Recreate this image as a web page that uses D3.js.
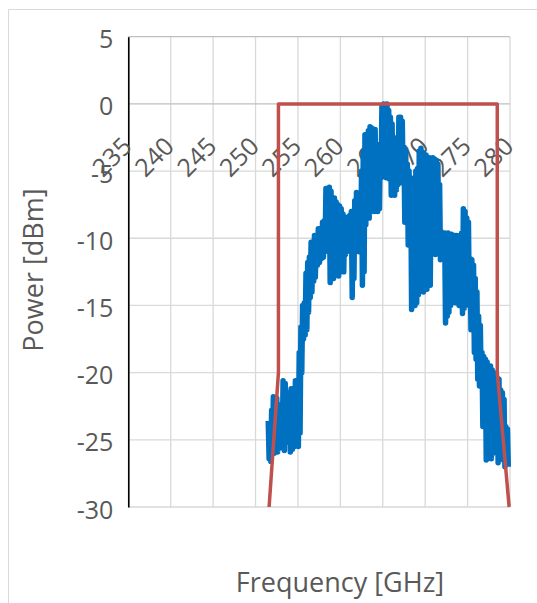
<!DOCTYPE html>
<meta charset="utf-8">
<style>
body { margin: 0; background: #fff; }
text { font-family: "Open Sans", "Noto Sans", sans-serif; fill: #595959; }
.grid line { stroke: #d9d9d9; stroke-width: 1.3; }
</style>
<body>
<script src="https://cdn.jsdelivr.net/npm/d3@7"></script>
<script>

// tick values
var xTicks = [235, 240, 245, 250, 255, 260, 265, 270, 275, 280];
var yTicks = [5, 0, -5, -10, -15, -20, -25, -30];

// filter mask (red)
var maskFreq  = [251.6, 252.7, 252.7, 278.5, 278.5, 279.9];
var maskPower = [-30, -20, 0, 0, -20, -30];

// measured spectrum (blue), [GHz, dBm]
var spectrum = [
  [251.50,-23.6],[251.60,-26.4],[251.70,-24.2],[251.80,-26.6],[251.90,-22.8],[252.00,-25.6],
  [252.10,-21.8],[252.20,-26.0],[252.30,-22.5],[252.40,-25.2],[252.50,-21.9],[252.60,-25.9],
  [252.70,-23.0],[252.85,-25.5],[253.00,-22.4],[253.15,-25.6],[253.25,-20.6],[253.40,-25.8],
  [253.50,-20.8],[253.65,-24.6],[253.75,-21.5],[253.90,-25.2],[254.00,-21.7],[254.10,-25.9],
  [254.20,-21.2],[254.35,-25.7],[254.45,-21.4],[254.60,-25.5],[254.70,-20.6],[254.85,-25.4],
  [254.95,-20.8],[255.05,-25.5],[255.15,-18.5],[255.25,-24.5],[255.35,-16.6],[255.45,-20.0],
  [255.55,-15.0],[255.65,-17.5],[255.75,-14.8],[255.85,-17.2],[255.95,-12.6],[256.05,-16.8],
  [256.15,-11.8],[256.25,-15.5],[256.35,-11.4],[256.45,-14.4],[256.55,-10.3],[256.65,-14.0],
  [256.75,-10.6],[256.85,-13.2],[256.95,-9.8],[257.05,-12.9],[257.15,-10.0],[257.30,-12.0],
  [257.40,-9.3],[257.55,-11.8],[257.65,-9.5],[257.80,-11.5],[257.90,-8.8],[258.00,-11.4],
  [258.10,-8.7],[258.20,-10.8],[258.30,-6.3],[258.40,-10.9],[258.50,-6.4],[258.60,-11.0],
  [258.70,-6.2],[258.80,-13.3],[258.90,-6.5],[259.00,-12.8],[259.10,-7.0],[259.20,-13.0],
  [259.30,-7.0],[259.40,-12.2],[259.50,-7.3],[259.60,-12.4],[259.70,-7.5],[259.80,-12.8],
  [259.90,-7.6],[260.00,-12.5],[260.10,-7.8],[260.20,-12.0],[260.30,-8.2],[260.40,-12.5],
  [260.50,-8.4],[260.60,-11.2],[260.70,-8.6],[260.80,-10.8],[260.90,-8.5],[261.00,-10.6],
  [261.10,-8.3],[261.20,-11.0],[261.30,-8.0],[261.40,-14.4],[261.50,-8.0],[261.60,-13.0],
  [261.70,-7.2],[261.80,-11.0],[261.90,-6.6],[262.00,-10.8],[262.10,-6.8],[262.20,-11.0],
  [262.30,-6.9],[262.40,-10.6],[262.50,-5.0],[262.60,-13.5],[262.70,-3.5],[262.80,-12.5],
  [262.90,-2.3],[263.00,-9.0],[263.10,-2.5],[263.20,-8.2],[263.30,-2.0],[263.40,-8.5],
  [263.50,-1.7],[263.60,-8.0],[263.70,-1.8],[263.80,-7.5],[263.90,-2.2],[264.00,-8.0],
  [264.10,-1.9],[264.20,-7.8],[264.30,-3.0],[264.40,-8.0],[264.50,-3.6],[264.60,-7.8],
  [264.70,-3.2],[264.80,-5.5],[264.90,-0.2],[265.00,-5.3],[265.10,0.0],[265.20,-5.4],
  [265.30,-0.3],[265.40,-5.5],[265.50,0.0],[265.60,-5.2],[265.70,-0.5],[265.80,-5.6],
  [265.90,-1.0],[266.00,-6.8],[266.10,-1.5],[266.20,-6.5],[266.30,-2.5],[266.40,-6.8],
  [266.50,-2.6],[266.60,-6.4],[266.70,-2.5],[266.80,-6.0],[266.90,-1.0],[267.00,-5.8],
  [267.10,-1.0],[267.20,-5.5],[267.30,-1.3],[267.40,-5.9],[267.50,-3.2],[267.60,-8.8],
  [267.70,-3.5],[267.80,-8.2],[267.90,-4.5],[268.00,-10.5],[268.10,-5.0],[268.20,-9.8],
  [268.30,-5.5],[268.40,-15.3],[268.50,-5.8],[268.60,-14.6],[268.70,-6.0],[268.80,-15.0],
  [268.90,-5.0],[269.00,-14.8],[269.10,-4.8],[269.20,-14.2],[269.30,-3.5],[269.40,-13.5],
  [269.50,-3.3],[269.60,-12.8],[269.70,-3.6],[269.80,-14.0],[269.90,-4.1],[270.00,-13.6],
  [270.10,-3.8],[270.20,-13.8],[270.30,-4.0],[270.40,-12.5],[270.50,-4.0],[270.60,-13.5],
  [270.70,-4.2],[270.80,-11.0],[270.90,-4.0],[271.00,-10.8],[271.10,-4.1],[271.20,-11.2],
  [271.30,-4.2],[271.40,-10.9],[271.50,-4.5],[271.60,-10.5],[271.70,-6.0],[271.80,-11.6],
  [271.90,-9.5],[272.00,-11.2],[272.10,-9.6],[272.20,-11.6],[272.30,-9.6],[272.40,-16.3],
  [272.50,-9.8],[272.60,-15.8],[272.70,-9.6],[272.80,-15.5],[272.90,-9.8],[273.00,-15.0],
  [273.10,-9.7],[273.20,-14.8],[273.30,-9.9],[273.40,-14.6],[273.50,-9.8],[273.60,-14.8],
  [273.70,-9.8],[273.80,-14.6],[273.90,-9.9],[274.00,-15.0],[274.10,-9.8],[274.20,-14.8],
  [274.30,-9.6],[274.40,-15.6],[274.50,-7.8],[274.60,-15.2],[274.70,-8.0],[274.80,-14.8],
  [274.90,-8.5],[275.00,-14.5],[275.10,-8.8],[275.20,-15.0],[275.30,-11.5],[275.40,-16.8],
  [275.50,-11.6],[275.60,-16.5],[275.70,-12.0],[275.80,-18.5],[275.90,-13.0],[276.00,-19.0],
  [276.10,-14.0],[276.20,-20.5],[276.30,-15.8],[276.40,-21.0],[276.50,-16.5],[276.60,-20.8],
  [276.70,-18.5],[276.80,-24.0],[276.90,-18.8],[277.00,-23.5],[277.10,-19.0],[277.20,-26.5],
  [277.30,-19.2],[277.40,-26.4],[277.50,-19.5],[277.60,-25.8],[277.70,-19.5],[277.80,-26.4],
  [277.90,-19.8],[278.00,-26.0],[278.10,-20.0],[278.20,-25.5],[278.30,-20.2],[278.40,-25.0],
  [278.50,-20.4],[278.60,-26.7],[278.70,-20.5],[278.80,-26.5],[278.90,-21.3],[279.00,-26.0],
  [279.10,-21.5],[279.20,-25.8],[279.30,-22.0],[279.40,-27.0],[279.50,-24.0],[279.60,-26.8],
  [279.70,-24.2],[279.80,-27.0]
];

var W = 537, H = 603;
var plot = {left: 128.3, right: 510, top: 36.7, bottom: 507};

var svg = d3.select("body").append("svg")
    .attr("width", W)
    .attr("height", H);

svg.append("rect").attr("width", W).attr("height", H).attr("fill", "#fff");

// chart area frame (only top and left edges are in view)
svg.append("path")
    .attr("d", "M8.5," + H + "V9.5H" + W)
    .attr("fill", "none")
    .attr("stroke", "#d9d9d9");

var x = d3.scaleLinear().domain([235, 280]).range([plot.left, plot.right]);
var y = d3.scaleLinear().domain([-30, 5]).range([plot.bottom, plot.top]);

// gridlines
var grid = svg.append("g").attr("class", "grid");
grid.selectAll(".vg").data(xTicks).enter().append("line")
    .attr("x1", function(d) { return x(d); })
    .attr("x2", function(d) { return x(d); })
    .attr("y1", plot.top)
    .attr("y2", plot.bottom);
grid.selectAll(".hg").data(yTicks).enter().append("line")
    .attr("x1", plot.left)
    .attr("x2", plot.right)
    .attr("y1", function(d) { return y(d); })
    .attr("y2", function(d) { return y(d); })
    .style("stroke", function(d) { return d === 0 || d === 5 ? "#bfbfbf" : null; });

// y axis, plain hyphen for negatives like the original
var yAxis = svg.append("g")
    .attr("transform", "translate(" + plot.left + ",0)")
    .call(d3.axisLeft(y).tickValues(yTicks).tickSize(0).tickPadding(15)
        .tickFormat(function(d) { return String(d); }));
yAxis.select(".domain").attr("stroke", "#000").attr("stroke-width", 1.6);
yAxis.selectAll("text")
    .attr("font-size", 25)
    .attr("font-family", null)
    .attr("dy", "0.44em");

// x axis crosses at 0 dBm
var xAxis = svg.append("g")
    .attr("transform", "translate(0," + y(0) + ")")
    .call(d3.axisBottom(x).tickValues(xTicks).tickSize(0));
xAxis.select(".domain").remove();
xAxis.selectAll("text")
    .attr("font-size", 25)
    .attr("font-family", null)
    .attr("y", 0)
    .attr("dy", null)
    .attr("text-anchor", "end")
    .attr("transform", "translate(4.5,44) rotate(-45)");

// spectrum
var line = d3.line()
    .x(function(d) { return x(d[0]); })
    .y(function(d) { return y(d[1]); });

svg.append("path")
    .datum(spectrum)
    .attr("d", line)
    .attr("fill", "none")
    .attr("stroke", "#0070c0")
    .attr("stroke-width", 5.5)
    .attr("stroke-linejoin", "round");

// mask on top
svg.append("path")
    .datum(d3.zip(maskFreq, maskPower))
    .attr("d", line)
    .attr("fill", "none")
    .attr("stroke", "#c0504d")
    .attr("stroke-width", 3.5)
    .attr("stroke-linejoin", "round");

// axis titles
svg.append("text")
    .attr("x", 340)
    .attr("y", 592)
    .attr("text-anchor", "middle")
    .attr("font-size", 27)
    .text("Frequency [GHz]");

svg.append("text")
    .attr("transform", "translate(43,270) rotate(-90)")
    .attr("text-anchor", "middle")
    .attr("font-size", 27)
    .text("Power [dBm]");

</script>
</body>
